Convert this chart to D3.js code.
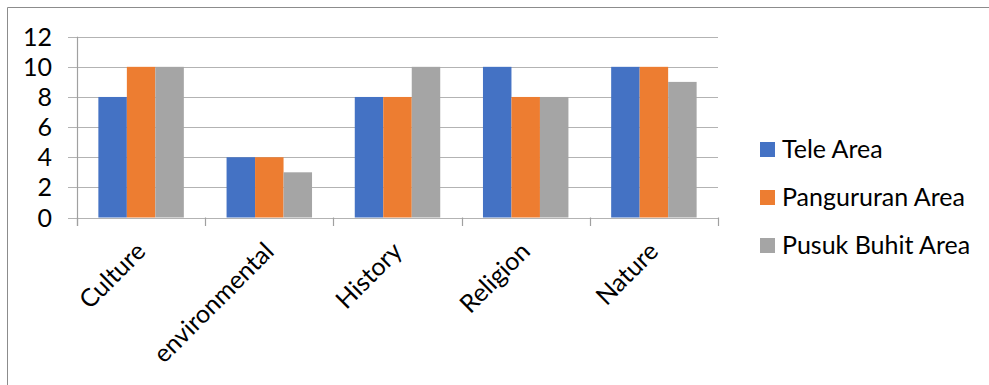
<!DOCTYPE html>
<html><head><meta charset="utf-8">
<script src="https://cdn.jsdelivr.net/npm/d3@7"></script>
<style>body{margin:0;background:#fff}svg{display:block}text{font-family:Lato,"Open Sans",sans-serif;fill:#000}</style>
</head><body><svg id="c" width="989" height="385"></svg>
<script>
const categories = ["Culture","environmental","History","Religion","Nature"];
const seriesNames = ["Tele Area","Pangururan Area","Pusuk Buhit Area"];
const teleArea = [8,4,8,10,10];
const pangururanArea = [10,4,8,8,10];
const pusukBuhitArea = [10,3,10,8,9];
const yTicks = [0,2,4,6,8,10,12];
const colors = ["#4472C4","#ED7D31","#A5A5A5"];

const values = [teleArea, pangururanArea, pusukBuhitArea];
const svg = d3.select("#c");
svg.append("path").attr("d","M7.5,385 V7.5 H989").attr("fill","none").attr("stroke","#8c8c8c").attr("stroke-width",1);

const x0 = d3.scaleBand().domain(categories).range([77,718]).paddingInner(0).paddingOuter(0);
const y = d3.scaleLinear().domain([0,12]).range([217.5,36.7]);
const x1 = d3.scaleBand().domain(d3.range(3)).range([0,x0.bandwidth()]).paddingOuter(0.75).paddingInner(0);

svg.append("g").selectAll("line").data(yTicks).join("line")
  .attr("x1",68).attr("x2",718).attr("y1",d=>Math.round(y(d))+0.5).attr("y2",d=>Math.round(y(d))+0.5)
  .attr("stroke","#b3b3b3").attr("stroke-width",1.2);

const g = svg.append("g");
categories.forEach((c,i)=>{
  values.forEach((s,k)=>{
    g.append("rect").attr("x",x0(c)+x1(k)).attr("width",x1.bandwidth())
     .attr("y",y(s[i])).attr("height",y(0)-y(s[i])).attr("fill",colors[k]);
  });
});

svg.append("line").attr("x1",77.5).attr("x2",77.5).attr("y1",36.7).attr("y2",226).attr("stroke","#a0a0a0").attr("stroke-width",1.2);
const bounds = categories.map(c=>x0(c)).concat([x0.range()[1]]);
svg.append("g").selectAll("line").data(bounds).join("line")
  .attr("x1",d=>Math.round(d)+0.5).attr("x2",d=>Math.round(d)+0.5).attr("y1",y(0)).attr("y2",226)
  .attr("stroke","#a0a0a0").attr("stroke-width",1.2);

svg.append("g").selectAll("text").data(yTicks).join("text")
  .attr("x",52).attr("y",d=>y(d)).attr("dy","0.36em").attr("text-anchor","end")
  .attr("font-size",25).text(d=>d);

svg.append("g").selectAll("text").data(categories).join("text")
  .attr("text-anchor","end").attr("font-size",25)
  .attr("transform",c=>`translate(${x0(c)+x0.bandwidth()/2+6},${253}) rotate(-45)`)
  .text(c=>c);

const lg = svg.append("g");
seriesNames.forEach((n,k)=>{
  lg.append("rect").attr("x",760).attr("y",142+48*k).attr("width",15).attr("height",15).attr("fill",colors[k]);
  lg.append("text").attr("x",782).attr("y",158+48*k).attr("font-size",25).text(n);
});
</script></body></html>
